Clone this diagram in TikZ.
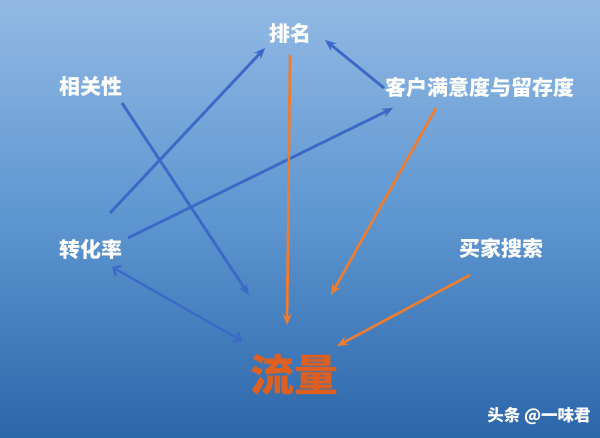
\documentclass[tikz,border=0pt]{standalone}
\usepackage{fontspec}
\newfontfamily\cjk{Noto Sans CJK SC}
\usetikzlibrary{arrows.meta}
\definecolor{bgtop}{RGB}{146,185,228}
\definecolor{bgmid}{RGB}{93,150,208}
\definecolor{bgbot}{RGB}{44,102,170}
\definecolor{arblue}{RGB}{60,105,200}
\definecolor{arorange}{RGB}{237,125,49}
\definecolor{flow}{RGB}{222,96,32}
\begin{document}
\begin{tikzpicture}[x=1pt,y=-1pt,
  lbl/.style={text=white,font=\cjk\bfseries\fontsize{21}{21}\selectfont,inner sep=0pt},
  bluearrow/.style={draw=arblue,line width=2.8pt,-{Stealth[length=11pt,width=9pt]}},
  orangearrow/.style={draw=arorange,line width=2.6pt,-{Stealth[length=11pt,width=9pt]}},
  twoway/.style={draw=arblue,line width=2.2pt,{Straight Barb[length=6pt,width=11pt]}-{Straight Barb[length=6pt,width=11pt]}}]
\shade[top color=bgtop,bottom color=bgbot,middle color=bgmid] (0,0) rectangle (600,438);
\useasboundingbox (0,0) rectangle (600,438);
% labels
\node[lbl] (rank) at (290,33) {排名};
\node[lbl] (rel) at (91,87) {相关性};
\node[lbl] (sat) at (480,87) {客户满意度与留存度};
\node[lbl] (conv) at (91,250) {转化率};
\node[lbl] (search) at (501,248) {买家搜索};
\node[text=flow,font=\cjk\bfseries\fontsize{44}{44}\selectfont,inner sep=0pt] (flow) at (294,375) {流量};
\node[text=white,font=\cjk\bfseries\fontsize{16.5}{16.5}\selectfont,inner sep=0pt] (wm) at (539,416) {头条 @一味君};
% endpoints
\coordinate (relS) at (122,103);
\coordinate (flowA) at (249,295);
\coordinate (convS1) at (110,213);
\coordinate (rankA1) at (265,48);
\coordinate (convS2) at (128,238);
\coordinate (satA) at (393,108);
\coordinate (satS1) at (384,88);
\coordinate (rankA2) at (325,40);
\coordinate (rankS) at (290,55);
\coordinate (flowB) at (287,325);
\coordinate (satS2) at (436,108);
\coordinate (flowC) at (331,295);
\coordinate (searchS) at (470,275);
\coordinate (flowD) at (337,346);
\coordinate (convE) at (112,267);
\coordinate (flowE) at (242,341);
% arrows
\draw[bluearrow] (relS) -- (flowA);
\draw[bluearrow] (convS1) -- (rankA1);
\draw[bluearrow] (convS2) -- (satA);
\draw[bluearrow] (satS1) -- (rankA2);
\draw[orangearrow] (rankS) -- (flowB);
\draw[orangearrow] (satS2) -- (flowC);
\draw[orangearrow] (searchS) -- (flowD);
\draw[twoway] (convE) -- (flowE);
\end{tikzpicture}
\end{document}
